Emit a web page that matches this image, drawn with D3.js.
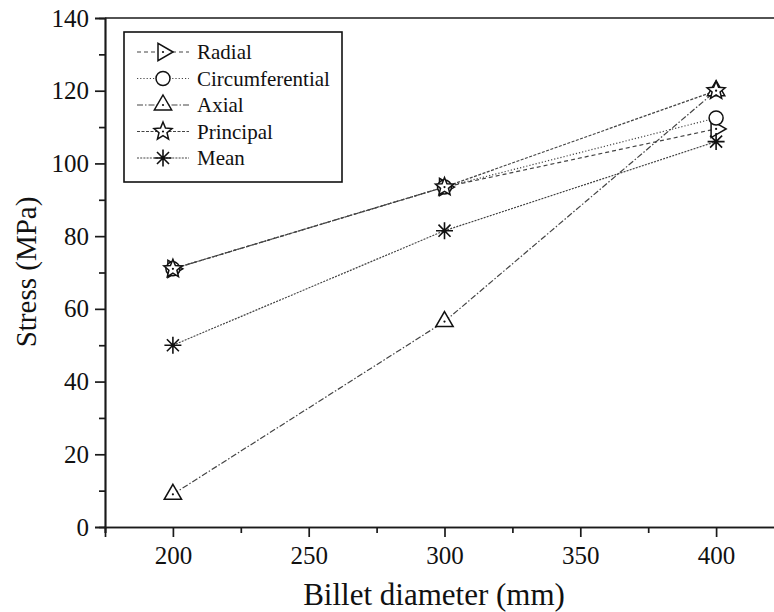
<!DOCTYPE html>
<html>
<head>
<meta charset="utf-8">
<script src="https://cdn.jsdelivr.net/npm/d3@7"></script>
<style>
  html, body { margin: 0; padding: 0; background: #fff; }
  svg { display: block; }
  svg text { font-family: 'Liberation Serif', 'Tinos', 'Times New Roman', Times, 'DejaVu Serif', serif !important; fill: #111; }
</style>
</head>
<body>
<svg id="chart" width="774" height="612"></svg>
<script>
// Billet diameters (mm)
const diameters = [200, 300, 400];

// Stress values (MPa) for each component
const radial          = [71.0, 93.5, 109.5];
const circumferential = [71.0, 93.5, 112.5];
const axial           = [9.0, 56.5, 120.0];
const principal       = [71.0, 93.5, 120.0];
const mean            = [50.0, 81.5, 106.0];

const seriesNames = ["Radial", "Circumferential", "Axial", "Principal", "Mean"];
const seriesValues = [radial, circumferential, axial, principal, mean];

const xTicks = [200, 250, 300, 350, 400];
const yTicks = [0, 20, 40, 60, 80, 100, 120, 140];

const svg = d3.select("#chart");

const x = d3.scaleLinear().domain([175, 425]).range([105, 784]);
const y = d3.scaleLinear().domain([0, 140]).range([527, 18]);

// dash styles and marker shapes per series
const dashes  = ["4,3", "1.2,2", "6,2,1.5,2", "3,1.5", "2,1.2"];
const shapes  = ["triRight", "circle", "triUp", "star", "asterisk"];

function markerPath(shape) {
  const p = d3.path();
  if (shape === "triUp") {
    const R = 10;
    p.moveTo(0, -R); p.lineTo(R * 0.866, R * 0.5); p.lineTo(-R * 0.866, R * 0.5); p.closePath();
  } else if (shape === "triRight") {
    const R = 10;
    p.moveTo(R, 0); p.lineTo(-R * 0.5, -R * 0.866); p.lineTo(-R * 0.5, R * 0.866); p.closePath();
  } else if (shape === "circle") {
    p.arc(0, 0, 7, 0, 2 * Math.PI); p.closePath();
  } else if (shape === "star") {
    const Ro = 9.5, Ri = 4.2;
    for (let i = 0; i < 10; i++) {
      const r = i % 2 === 0 ? Ro : Ri;
      const a = -Math.PI / 2 + i * Math.PI / 5;
      if (i === 0) p.moveTo(r * Math.cos(a), r * Math.sin(a));
      else p.lineTo(r * Math.cos(a), r * Math.sin(a));
    }
    p.closePath();
  } else if (shape === "asterisk") {
    const L = 8.5;
    for (let k = 0; k < 4; k++) {
      const a = k * Math.PI / 4;
      p.moveTo(-L * Math.cos(a), -L * Math.sin(a));
      p.lineTo(L * Math.cos(a), L * Math.sin(a));
    }
  }
  return p.toString();
}

function drawMarker(g, shape, cx, cy) {
  const m = g.append("g").attr("transform", `translate(${cx},${cy})`);
  m.append("path")
    .attr("d", markerPath(shape))
    .attr("fill", shape === "asterisk" ? "none" : "#fff")
    .attr("stroke", "#111")
    .attr("stroke-width", shape === "asterisk" ? 1.6 : 1.5)
    .attr("stroke-linejoin", "miter");
  if (shape !== "circle") {
    m.append("circle").attr("r", 1.1).attr("fill", "#111");
  }
}

// Axes
const xAxisMajor = d3.axisBottom(x).tickValues(xTicks).tickSize(10).tickPadding(9).tickFormat(d3.format("d"));
const xAxisMinor = d3.axisBottom(x).tickValues([175, 225, 275, 325, 375]).tickSize(6).tickFormat("");
const yAxisMajor = d3.axisLeft(y).tickValues(yTicks).tickSize(10).tickPadding(6).tickFormat(d3.format("d"));
const yAxisMinor = d3.axisLeft(y).tickValues([10, 30, 50, 70, 90, 110, 130]).tickSize(6).tickFormat("");

function styleAxis(g) {
  g.attr("font-family", null).attr("font-size", null);
  g.selectAll("path.domain").attr("stroke", "#1a1a1a").attr("stroke-width", 1.7);
  g.selectAll(".tick line").attr("stroke", "#1a1a1a").attr("stroke-width", 1.7);
  g.selectAll(".tick text").style("font-size", "25px").attr("fill", "#111");
}

svg.append("g").attr("transform", "translate(0,527)").call(xAxisMinor).call(styleAxis);
svg.append("g").attr("transform", "translate(0,527)").call(xAxisMajor).call(styleAxis);
svg.append("g").attr("transform", "translate(105,0)").call(yAxisMinor).call(styleAxis);
svg.append("g").attr("transform", "translate(105,0)").call(yAxisMajor).call(styleAxis);

// top frame line
svg.append("line").attr("x1", 105).attr("x2", 784).attr("y1", 18).attr("y2", 18)
  .attr("stroke", "#1a1a1a").attr("stroke-width", 1.7);

// Axis titles
svg.append("text").attr("x", 434).attr("y", 605).attr("text-anchor", "middle")
  .style("font-size", "31px").text("Billet diameter (mm)");
svg.append("text").attr("transform", "translate(36,272) rotate(-90)").attr("text-anchor", "middle")
  .style("font-size", "29px").text("Stress (MPa)");

// Series lines
const line = d3.line().x((d, i) => x(diameters[i])).y(d => y(d));
const plot = svg.append("g");
seriesValues.forEach((vals, s) => {
  plot.append("path").datum(vals).attr("d", line)
    .attr("fill", "none").attr("stroke", "#444").attr("stroke-width", 1.2)
    .attr("stroke-dasharray", dashes[s]);
});
// Markers (drawn after all lines)
seriesValues.forEach((vals, s) => {
  vals.forEach((v, i) => drawMarker(plot, shapes[s], x(diameters[i]), y(v)));
});

// Legend
const lg = svg.append("g");
lg.append("rect").attr("x", 124).attr("y", 32).attr("width", 218).attr("height", 150)
  .attr("fill", "#fff").attr("stroke", "#111").attr("stroke-width", 1.6);
seriesNames.forEach((name, s) => {
  const ly = 52 + s * 26.5;
  lg.append("line").attr("x1", 137).attr("x2", 189).attr("y1", ly).attr("y2", ly)
    .attr("stroke", "#444").attr("stroke-width", 1.2).attr("stroke-dasharray", dashes[s]);
  drawMarker(lg, shapes[s], 163, ly);
  lg.append("text").attr("x", 197).attr("y", ly + 7).style("font-size", "21px").text(name);
});
</script>
</body>
</html>
